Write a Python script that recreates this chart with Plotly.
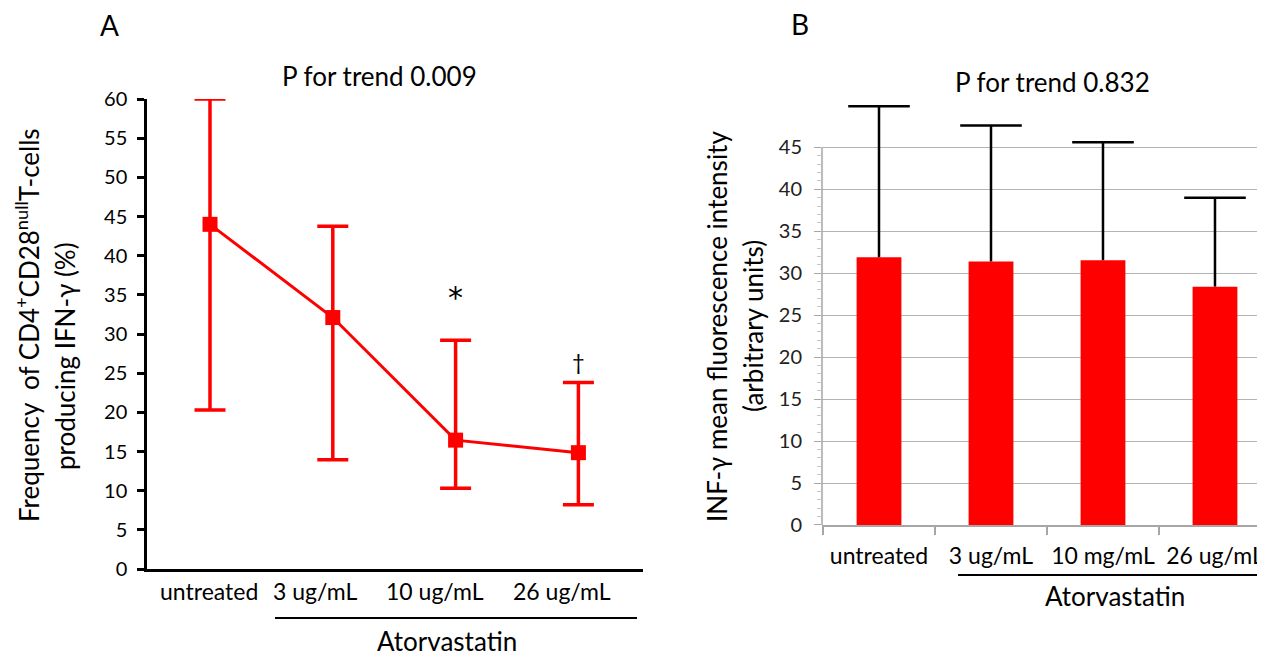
import plotly.graph_objects as go

# ---------------- data ----------------
a_categories = ["untreated", "3 ug/mL", "10 ug/mL", "26 ug/mL"]
a_mean = [44.0, 32.1, 16.45, 14.85]
a_upper = [60.0, 43.75, 29.2, 23.8]
a_lower = [20.3, 13.95, 10.3, 8.2]
a_marks = ["", "", "*", "†"]
a_mark_y = [None, None, 34.6, 26.5]

b_categories = ["untreated", "3 ug/mL", "10 mg/mL", "26 ug/mL"]
b_mean = [31.9, 31.4, 31.55, 28.4]
b_upper = [49.9, 47.6, 45.6, 39.0]

a_yticks = list(range(0, 61, 5))
b_yticks = list(range(0, 46, 5))
b_yminor = list(range(0, 46, 1))
b_ymax_axis = 45
b_yrange_top = 50.6

W, H = 1265, 655
OFF = 8  # page body margin
FONT = "Lato, 'Noto Sans', sans-serif"
RED = "#ff0000"
GRAY = "#a6a6a6"


def px(x):
    return (x - OFF) / W


def py(y):
    return 1 - (y - OFF) / H


fig = go.Figure()

# ---------------- panel A ----------------
ax_idx = list(range(len(a_categories)))
fig.add_trace(go.Scatter(
    x=ax_idx, y=a_mean, mode="lines+markers",
    line=dict(color=RED, width=3),
    marker=dict(symbol="square", size=15, color=RED),
    error_y=dict(type="data", symmetric=False,
                 array=[u - m for u, m in zip(a_upper, a_mean)],
                 arrayminus=[m - l for m, l in zip(a_mean, a_lower)],
                 color=RED, thickness=3.5, width=15.5),
    cliponaxis=False, showlegend=False, xaxis="x", yaxis="y",
))

# ---------------- panel B ----------------
bx_idx = list(range(len(b_categories)))
fig.add_trace(go.Bar(
    x=bx_idx, y=b_mean, width=0.4, marker=dict(color=RED, line=dict(width=0)),
    showlegend=False, xaxis="x2", yaxis="y2",
))
# upper-only error bars: vertical stem + cap marker at the top
fig.add_trace(go.Scatter(
    x=bx_idx, y=b_upper, mode="markers",
    marker=dict(symbol="line-ew-open", size=44, color="black",
                line=dict(color="black", width=2.5)),
    error_y=dict(type="data", symmetric=False,
                 array=[0] * len(b_upper),
                 arrayminus=[u - m for u, m in zip(b_upper, b_mean)],
                 color="black", thickness=2.5, width=0),
    showlegend=False, xaxis="x2", yaxis="y2",
))

annotations = []
# A x labels
a_label_shift = [-1, -18, -21, -16]
for i, (c, s) in enumerate(zip(a_categories, a_label_shift)):
    annotations.append(dict(x=i, y=py(591), xref="x", yref="paper", text=c,
                            showarrow=False, xshift=s, font=dict(size=23, family=FONT, color="black"),
                            xanchor="center", yanchor="middle"))
for i, (m, yv) in enumerate(zip(a_marks, a_mark_y)):
    if m:
        annotations.append(dict(x=i, y=yv, xref="x", yref="y", text=m, showarrow=False,
                                font=dict(size=30 if m == "*" else 22,
                                          family="'DejaVu Sans', sans-serif" if m == "*" else FONT,
                                          color="black"),
                                xanchor="center", yanchor="middle"))

annotations += [
    dict(x=px(109), y=py(25), text="A", font=dict(size=28)),
    dict(x=px(379), y=py(76), text="P for trend 0.009", font=dict(size=26)),
    dict(x=px(447), y=py(641), text="Atorvastatin", font=dict(size=26)),
    dict(x=px(28), y=py(325), text="Frequency  of CD4<sup>+</sup>CD28<sup>null</sup>T-cells",
         textangle=-90, font=dict(size=26)),
    dict(x=px(65), y=py(356), text="producing IFN-γ (%)", textangle=-90, font=dict(size=26)),
    dict(x=px(800), y=py(24), text="B", font=dict(size=28)),
    dict(x=px(1052), y=py(82), text="P for trend 0.832", font=dict(size=26)),
    dict(x=px(1115), y=py(596), text="Atorvastatin", font=dict(size=26)),
    dict(x=px(717), y=py(327), text="INF-γ mean fluorescence intensity", textangle=-90,
         font=dict(size=26)),
    dict(x=px(753), y=py(326), text="(arbitrary units)", textangle=-90, font=dict(size=26)),
]
for a in annotations:
    a.setdefault("xref", "paper")
    a.setdefault("yref", "paper")
    a.setdefault("showarrow", False)
    a.setdefault("xanchor", "center")
    a.setdefault("yanchor", "middle")
    f = a.get("font", {})
    f.setdefault("family", FONT)
    f.setdefault("color", "black")
    a["font"] = f

shapes = [
    dict(type="line", xref="paper", yref="paper", x0=px(275), x1=px(637), y0=py(618), y1=py(618),
         line=dict(color="black", width=2)),
    dict(type="line", xref="paper", yref="paper", x0=px(958), x1=1.0, y0=py(575), y1=py(575),
         line=dict(color="black", width=2)),
    # B value-axis line, drawn only from 0 up to the last tick
    dict(type="line", xref="x2 domain", yref="y2", x0=0, x1=0, y0=0, y1=b_ymax_axis,
         line=dict(color=GRAY, width=1.5), layer="above"),
]

# B y-domain so that 0 -> 525 px and 45 -> 147.3 px on screen
b_px_per_unit = (525 - 147.3) / b_ymax_axis
b_top_px = 525 - b_yrange_top * b_px_per_unit

fig.update_layout(
    width=W, height=H, margin=dict(l=0, r=0, t=0, b=0, autoexpand=False),
    paper_bgcolor="white", plot_bgcolor="white",
    font=dict(family=FONT, color="black"),
    annotations=annotations, shapes=shapes,
    xaxis=dict(domain=[px(147), px(643)], range=[-0.513, 3.526], anchor="y",
               showline=True, linecolor="black", linewidth=2.5,
               showticklabels=False, ticks="", showgrid=False, zeroline=False,
               fixedrange=True),
    yaxis=dict(domain=[py(569), py(99)], range=[0, 60], anchor="x",
               tickmode="array", tickvals=a_yticks, ticktext=[str(v) for v in a_yticks],
               showline=True, linecolor="black", linewidth=2.5,
               ticks="outside", ticklen=7, tickwidth=2.5, tickcolor="black",
               ticklabelstandoff=6,
               tickfont=dict(size=20, family=FONT, color="black"),
               showgrid=False, zeroline=False, fixedrange=True),
    xaxis2=dict(domain=[px(822), 1.0], range=[-0.509, 3.518], anchor="y2",
                tickmode="array", tickvals=bx_idx, ticktext=b_categories,
                showline=True, linecolor=GRAY, linewidth=1.5,
                ticks="", showgrid=False, zeroline=False,
                ticklabelstandoff=10,
                tickfont=dict(size=23, family=FONT, color="black"),
                minor=dict(tickmode="array", tickvals=[i + 0.5 for i in bx_idx[:-1]] + [-0.5],
                           ticks="outside", ticklen=8, tickcolor=GRAY, tickwidth=1.5),
                fixedrange=True),
    yaxis2=dict(domain=[py(525), py(b_top_px)], range=[0, b_yrange_top], anchor="x2",
                tickmode="array", tickvals=b_yticks, ticktext=[str(v) for v in b_yticks],
                showline=False,
                ticks="outside", ticklen=7, tickwidth=1.2, tickcolor=GRAY,
                ticklabelstandoff=8,
                tickfont=dict(size=20, family=FONT, color="#222222"),
                showgrid=True, gridcolor="#b4b4b4", gridwidth=1.2,
                zeroline=False,
                minor=dict(tickmode="array", tickvals=b_yminor, ticks="outside", ticklen=4,
                           tickcolor="#c8c8c8", tickwidth=1, showgrid=False),
                fixedrange=True),
)

fig.write_html("out.html")
